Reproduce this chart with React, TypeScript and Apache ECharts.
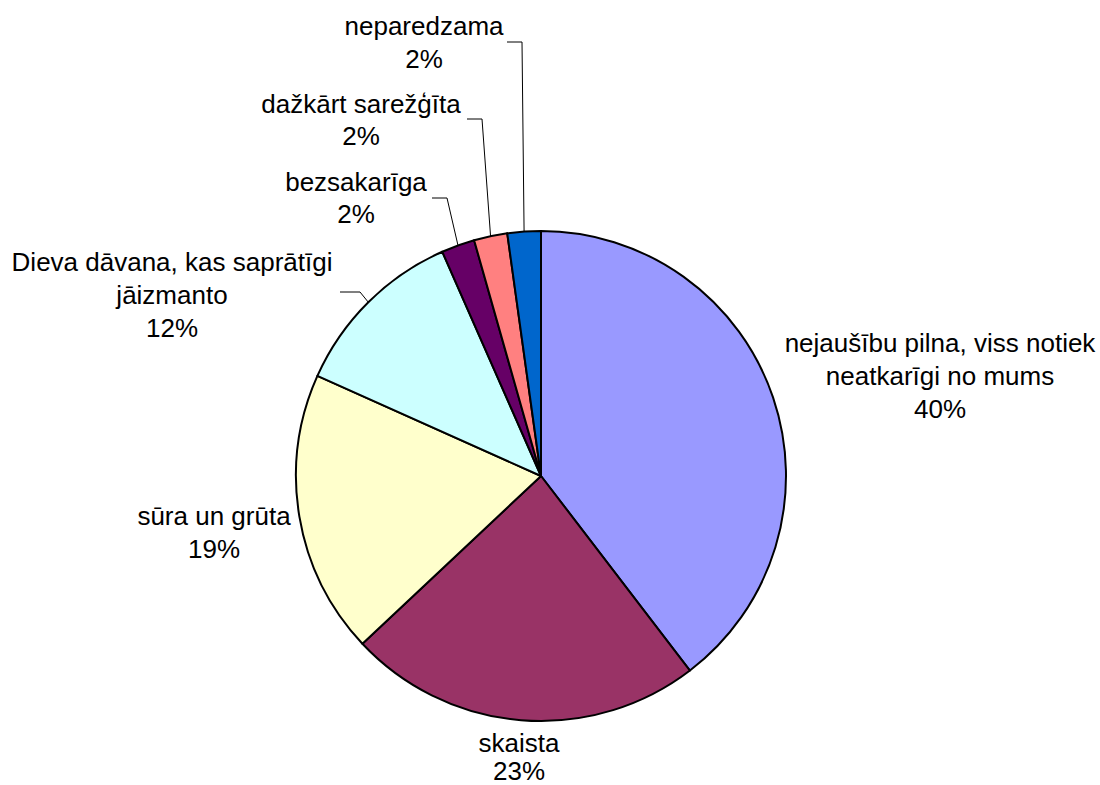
import React, { useEffect, useRef } from "react";
import * as echarts from "echarts";

const categories = [
  "nejaušību pilna, viss notiek\nneatkarīgi no mums",
  "skaista",
  "sūra un grūta",
  "Dieva dāvana, kas saprātīgi\njāizmanto",
  "bezsakarīga",
  "dažkārt sarežģīta",
  "neparedzama",
];
const values = [39.6, 23.4, 18.7, 11.7, 2.2, 2.2, 2.2];
const colors = ["#9999FF", "#993366", "#FFFFCC", "#CCFFFF", "#660066", "#FF8080", "#0066CC"];

// label layout (block centers) and leader-line elbows
const CENTER = [541, 476];
const RADIUS = 245;
const labelPos: number[][] = [
  [940, 376],
  [519, 757],
  [214, 532],
  [172, 295],
  [356, 198],
  [361, 120],
  [424, 42],
];
const labelLH = [33, 28, 33, 33, 32, 32, 33];
const leader: (number[][] | null)[] = [
  null,
  null,
  null,
  [[340, 292], [360, 292]],
  [[432, 198], [447, 198]],
  [[467, 119], [482, 119]],
  [[507, 42], [522, 42]],
];

export default function App() {
  const ref = useRef<HTMLDivElement>(null);
  useEffect(() => {
    document.body.style.margin = "0";
    const chart = echarts.init(ref.current!, null, { renderer: "svg" });
    const total = values.reduce((a, b) => a + b, 0);
    const edge = (i: number) => {
      let cum = 0;
      for (let k = 0; k < i; k++) cum += values[k];
      const mid = ((cum + values[i] / 2) / total) * Math.PI * 2;
      return [CENTER[0] + RADIUS * Math.sin(mid), CENTER[1] - RADIUS * Math.cos(mid)];
    };
    chart.setOption({
      animation: false,
      backgroundColor: "#ffffff",
      series: [
        {
          type: "pie",
          center: CENTER,
          radius: RADIUS,
          startAngle: 90,
          clockwise: true,
          percentPrecision: 0,
          avoidLabelOverlap: false,
          data: categories.map((name, i) => ({
            name,
            value: values[i],
            itemStyle: { color: colors[i] },
            labelLine: { show: !!leader[i] },
            label: { lineHeight: labelLH[i] },
          })),
          itemStyle: { borderColor: "#000000", borderWidth: 2 },
          label: {
            show: true,
            position: "outside",
            formatter: "{b}\n{d}%",
            fontFamily: "Liberation Sans, Arial, sans-serif",
            fontSize: 26,
            lineHeight: 33,
            color: "#000000",
            align: "center",
          },
          labelLine: {
            show: true,
            lineStyle: { color: "#000000", width: 1 },
          },
          emphasis: { disabled: true },
          labelLayout: (params: any) => {
            const i = params.dataIndex;
            const res: any = {
              x: labelPos[i][0],
              y: labelPos[i][1],
              align: "center",
              verticalAlign: "middle",
              hideOverlap: false,
            };
            if (leader[i]) {
              res.labelLinePoints = [leader[i]![0], leader[i]![1], edge(i)];
            }
            return res;
          },
        },
      ],
    });
    return () => chart.dispose();
  }, []);
  return (
    <div
      ref={ref}
      style={{ position: "absolute", left: 0, top: 0, width: 1100, height: 785 }}
    />
  );
}
